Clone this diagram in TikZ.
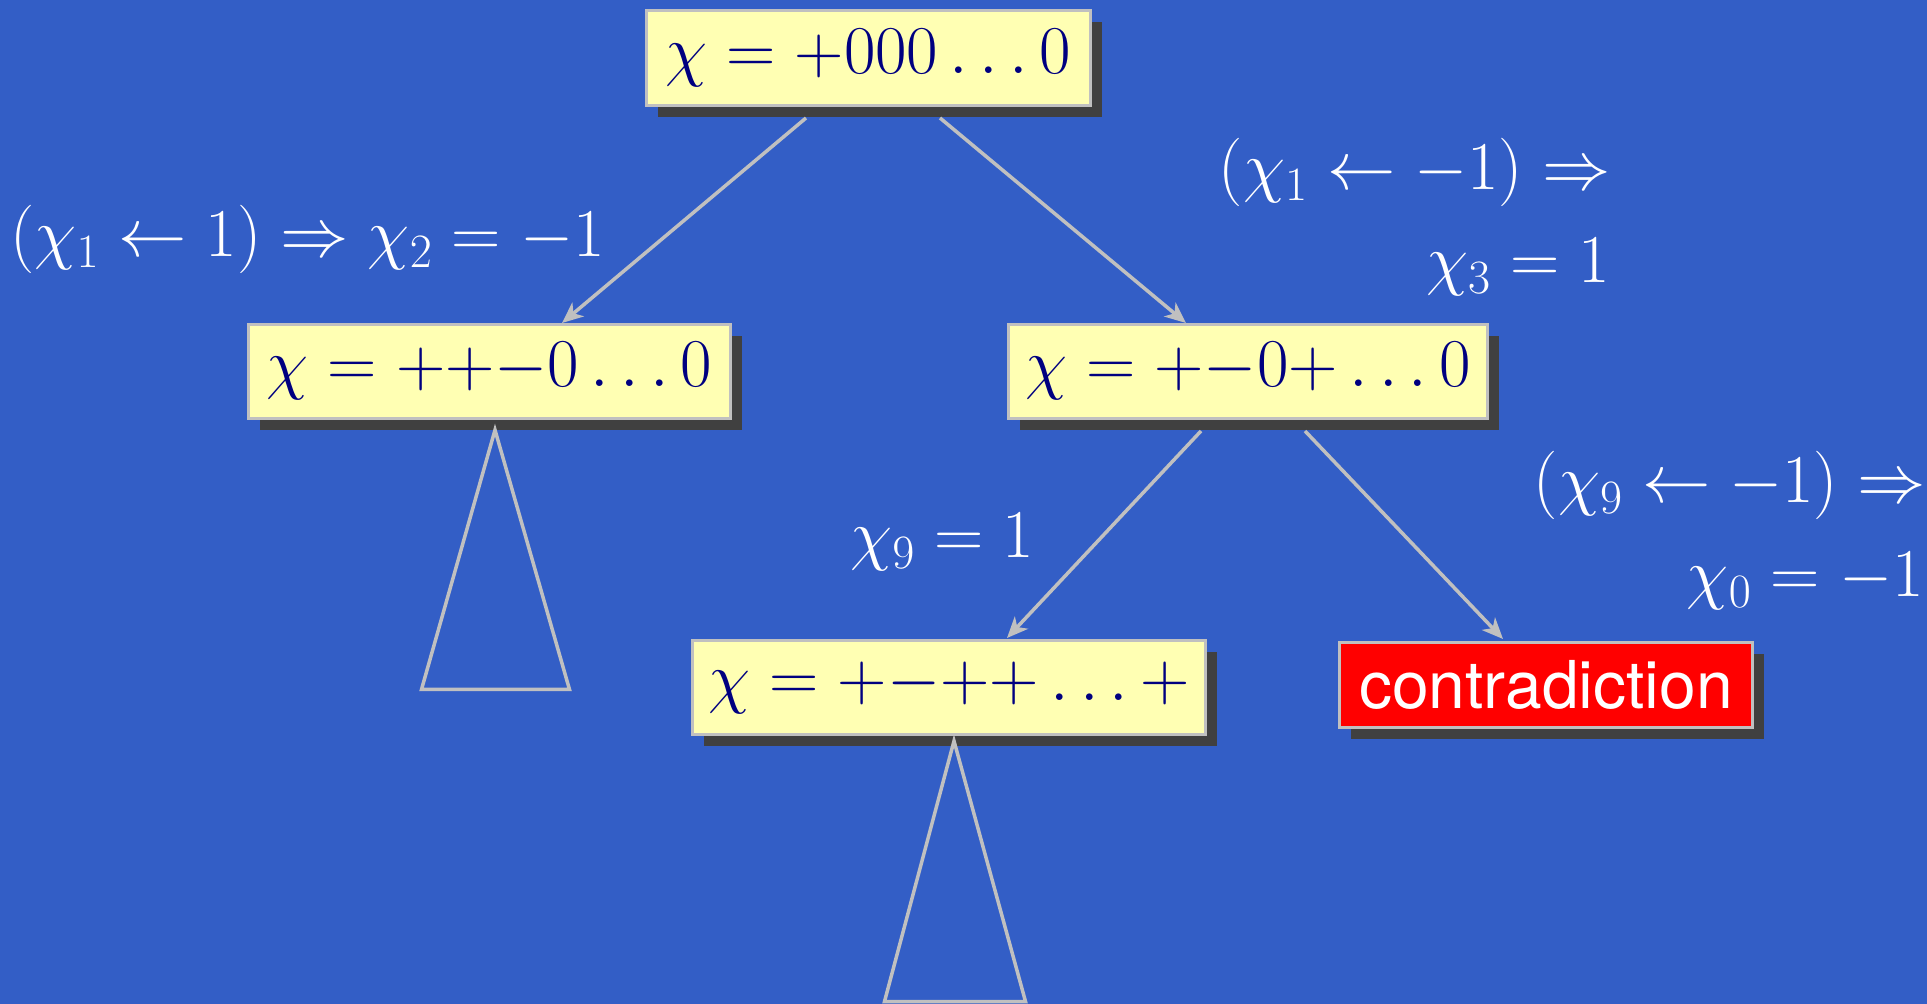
\RequirePackage{fix-cm}
\documentclass[tikz,border=0pt]{standalone}
\usepackage{fontspec}
\newfontfamily\heros{TeX Gyre Heros}
\usetikzlibrary{shadows,calc,arrows.meta}
\definecolor{bg}{RGB}{51,94,198}
\definecolor{boxyellow}{RGB}{255,255,179}
\definecolor{bordergray}{RGB}{192,192,192}
\definecolor{shadowgray}{RGB}{64,64,64}
\definecolor{navy}{RGB}{0,0,128}
\begin{document}
\begin{tikzpicture}[x=0.5pt,y=-0.5pt,
 box/.style={draw=bordergray, line width=1.75pt, fill=boxyellow, text=navy, inner sep=0pt,
   general shadow={fill=shadowgray, shadow xshift=5.75pt, shadow yshift=-5.75pt},
   font=\fontsize{34.2}{41}\selectfont},
 conn/.style={draw=bordergray, line width=1.75pt, -{Stealth[length=10.5pt,width=9pt,inset=3pt]}},
 lab/.style={text=white, inner sep=0pt, font=\fontsize{34.2}{41}\selectfont},
 tri/.style={draw=bordergray, line width=1.75pt}]
\fill[bg] (0,0) rectangle (1927,1004);
\useasboundingbox (0,0) rectangle (1927,1004);

\node[box, minimum width=222pt, minimum height=47.5pt] (top) at (868.5,58) {$\chi = {+}000\ldots0$};
\node[box, minimum width=241pt, minimum height=47pt] (left) at (489.5,371.5) {$\chi = {+}{+}{-}0\ldots0$};
\node[box, minimum width=239.5pt, minimum height=47pt] (right) at (1248,371.5) {$\chi = {+}{-}0{+}\ldots0$};
\node[box, minimum width=256.5pt, minimum height=47pt] (bot) at (949,687.5) {$\chi = {+}{-}{+}{+}\ldots{+}$};
\node[box, fill=red, text=white, font=\heros\fontsize{33}{40}\selectfont, minimum width=206.5pt, minimum height=42.5pt] (contra) at (1546,685) {contradiction};

\draw[conn] ($(top.center)+(-62.5,60)$) -- ($(left.center)+(72.5,-48.5)$);
\draw[conn] ($(top.center)+(71.5,60)$) -- ($(right.center)+(-62,-48.5)$);
\draw[conn] ($(right.center)+(-47,59.5)$) -- ($(bot.center)+(58,-49.5)$);
\draw[conn] ($(right.center)+(57,59.5)$) -- ($(contra.center)+(-43,-46)$);

\draw[tri] ($(left.center)+(5.5,58.5)$) -- ($(left.center)+(-68,318)$) -- ($(left.center)+(80,318)$) -- cycle;
\draw[tri] ($(bot.center)+(5,53.5)$) -- ($(bot.center)+(-64.5,314)$) -- ($(bot.center)+(76.5,314)$) -- cycle;

\node[lab, anchor=base west] (l1) at (10,257) {$(\chi_1 \leftarrow 1) \Rightarrow \chi_2 = -1$};
\node[lab, anchor=base east] (l2a) at (1611,190) {$(\chi_1 \leftarrow -1) \Rightarrow$};
\node[lab, anchor=base east] (l2b) at (1610,283) {$\chi_3 = 1$};
\node[lab, anchor=base west] (l3) at (850,558) {$\chi_9 = 1$};
\node[lab, anchor=base east] (l4a) at (1926,503) {$(\chi_9 \leftarrow -1) \Rightarrow$};
\node[lab, anchor=base east] (l4b) at (1924,597) {$\chi_0 = -1$};
\end{tikzpicture}
\end{document}
